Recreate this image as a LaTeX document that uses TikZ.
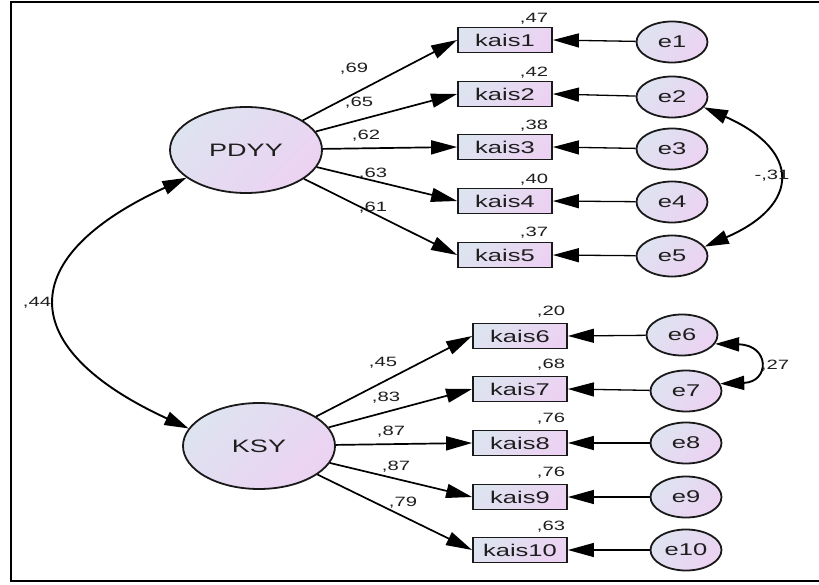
\documentclass[tikz,border=0pt]{standalone}
\usepackage{fontspec}
\setmainfont[FakeStretch=1.5]{Liberation Sans}
\usetikzlibrary{shapes.geometric,arrows.meta}
\definecolor{shA}{RGB}{222,227,240}
\definecolor{shB}{RGB}{236,210,242}
\definecolor{edge}{RGB}{25,25,25}
\definecolor{txt}{RGB}{30,30,30}
\begin{document}
\begin{tikzpicture}[x=1pt,y=-1pt,
  shd/.style={top color=shA, bottom color=shB, shading angle=45, draw=edge, line width=1.8pt},
  latent/.style={shd, ellipse, minimum width=152pt, minimum height=86pt, inner sep=0pt, font=\fontsize{18}{18}\selectfont, text=txt},
  obsbox/.style={shd, rectangle, minimum width=94pt, minimum height=25pt, inner sep=0pt, font=\fontsize{17}{17}\selectfont, text=txt},
  errc/.style={shd, ellipse, minimum width=71pt, minimum height=41pt, inner sep=0pt, font=\fontsize{17}{17}\selectfont, text=txt},
  pth/.style={line width=1.7pt, -{Triangle[length=26pt,width=14pt]}},
  epth/.style={line width=1.3pt, -{Triangle[length=26pt,width=14pt]}},
  cov/.style={line width=1.9pt, {Triangle[length=24pt,width=14pt]}-{Triangle[length=24pt,width=14pt]}},
  lab/.style={font=\fontsize{13.5}{13.5}\selectfont, text=txt, inner sep=0pt}
]
\useasboundingbox (0,0) rectangle (819,585);
\draw[line width=1.8pt] (825,2) -- (11,2) -- (11,581) -- (825,581);

\node[latent] (pdyy) at (246,150) {PDYY};
\node[latent] (ksy) at (259,446) {KSY};

\foreach \i/\y in {1/40,2/94,3/147,4/201,5/255}{
  \node[obsbox] (k\i) at (505,\y) {kais\i};
}
\foreach \i/\y in {6/336,7/389,8/443,9/497,10/550}{
  \node[obsbox] (k\i) at (520,\y) {kais\i};
}
\foreach \i/\y in {1/42,2/97,3/149,4/202,5/256}{
  \node[errc] (e\i) at (672,\y) {e\i};
}
\node[errc] (e6) at (682,335) {e6};
\foreach \i/\y in {7/391,8/443,9/497,10/550}{
  \node[errc] (e\i) at (686,\y) {e\i};
}

\foreach \i in {1,...,5}{ \draw[pth] (pdyy) -- (k\i.west); }
\foreach \i in {6,...,10}{ \draw[pth] (ksy) -- (k\i.west); }
\foreach \i in {1,...,10}{ \draw[epth] (e\i) -- (k\i.east); }

\draw[cov] (pdyy.205) .. controls (14,257) and (14,348) .. (ksy.166);
\draw[cov] (e2.-18) .. controls (801,150) and (801,205) .. (e5.16);
\draw[cov] (e6.-15) .. controls (770,345) and (770,382) .. (e7.12);

% loadings
\node[lab] (l1) at (354,69) {,69};
\node[lab] (l2) at (359,103) {,65};
\node[lab] (l3) at (366,136) {,62};
\node[lab] (l4) at (373,174) {,63};
\node[lab] (l5) at (373,208) {,61};
\node[lab] (l6) at (383,363) {,45};
\node[lab] (l7) at (386,398) {,83};
\node[lab] (l8) at (391,432) {,87};
\node[lab] (l9) at (396,467) {,87};
\node[lab] (l10) at (403,503) {,79};
% R2
\node[lab] (r1) at (534,19) {,47};
\node[lab] (r2) at (534,73) {,42};
\node[lab] (r3) at (534,126) {,38};
\node[lab] (r4) at (534,180) {,40};
\node[lab] (r5) at (534,233) {,37};
\node[lab] (r6) at (551,312) {,20};
\node[lab] (r7) at (551,365) {,68};
\node[lab] (r8) at (551,419) {,76};
\node[lab] (r9) at (551,473) {,76};
\node[lab] (r10) at (551,527) {,63};
% covariances
\node[lab] (c1) at (37,303) {,44};
\node[lab] (c2) at (772,176) {-,31};
\node[lab] (c3) at (775,366) {,27};
\end{tikzpicture}
\end{document}
